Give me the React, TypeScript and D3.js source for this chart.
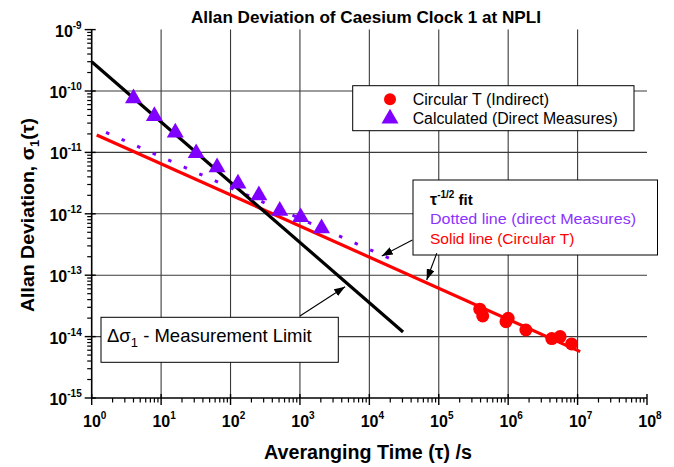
import React, { useRef, useEffect } from 'react'
import * as d3 from 'd3'

// Calculated (Direct Measures) - triangles
const calcTau = [4, 8, 16, 32, 64, 128, 256, 512, 1024, 2048]
const calcSigma = [7.6e-11, 3.9e-11, 2.1e-11, 9.7e-12, 5.7e-12, 3.1e-12, 2.0e-12, 1.12e-12, 8.8e-13, 5.8e-13]

// Circular T (Indirect) - circles
const circTau = [3.9e5, 4.3e5, 9.3e5, 1.0e6, 1.8e6, 4.25e6, 5.6e6, 8.2e6]
const circSigma = [2.8e-14, 2.17e-14, 1.75e-14, 1.99e-14, 1.28e-14, 9.3e-15, 1.0e-14, 7.6e-15]

// line end points [tau, sigma]
const limitLine = [[1, 3.0e-10], [3.06e4, 1.19e-14]]
const solidFit = [[1.18, 1.92e-11], [1.09e7, 5.7e-15]]
const dottedFit = [[1.61, 2.12e-11], [2.62e4, 1.62e-13]]

// annotation arrows [from, to]
const arrows = [
  [[4.17e4, 3.75e-13], [1.51e4, 2.06e-13]],
  [[9.35e4, 2.28e-13], [6.7e4, 8.36e-14]],
  [[1.0e3, 2.17e-14], [4.47e3, 6.5e-14]],
]

const xExponents = [0, 1, 2, 3, 4, 5, 6, 7, 8]
const yExponents = [-9, -10, -11, -12, -13, -14, -15]

const FONT = '"Liberation Sans", Arial, Helvetica, sans-serif'
const PURPLE = '#8000ff'
const RED = '#ff0000'

function Chart() {
  const ref = useRef(null)

  useEffect(() => {
    const svg = d3.select(ref.current)
    svg.selectAll('*').remove()

    const left = 91.7, right = 647, top = 29.6, bottom = 398
    const x = d3.scaleLog().domain([1, 1e8]).range([left, right])
    const y = d3.scaleLog().domain([1e-15, 1e-9]).range([bottom, top])

    const defs = svg.append('defs')
    defs.append('marker')
      .attr('id', 'arrowhead')
      .attr('markerUnits', 'userSpaceOnUse')
      .attr('markerWidth', 11).attr('markerHeight', 8)
      .attr('refX', 11).attr('refY', 4)
      .attr('orient', 'auto')
      .append('path').attr('d', 'M0,0 L11,4 L0,8 Z').attr('fill', '#000')

    // grid
    const g = svg.append('g')
    g.selectAll('.vgrid')
      .data(xExponents.slice(1, -1))
      .enter().append('line')
      .attr('x1', d => x(Math.pow(10, d))).attr('x2', d => x(Math.pow(10, d)))
      .attr('y1', top).attr('y2', bottom)
      .attr('stroke', '#3a3a3a').attr('stroke-width', 1.1)
    g.selectAll('.hgrid')
      .data(yExponents.slice(1, -1))
      .enter().append('line')
      .attr('y1', d => y(Math.pow(10, d))).attr('y2', d => y(Math.pow(10, d)))
      .attr('x1', left).attr('x2', right)
      .attr('stroke', '#3a3a3a').attr('stroke-width', 1.1)

    // minor ticks
    const xMinor = []
    xExponents.slice(0, -1).forEach(e => { for (let m = 2; m < 10; m++) xMinor.push(m * Math.pow(10, e)) })
    const yMinor = []
    yExponents.slice(1).forEach(e => { for (let m = 2; m < 10; m++) yMinor.push(m * Math.pow(10, e)) })

    g.selectAll('.xminor').data(xMinor).enter().append('line')
      .attr('x1', d => x(d)).attr('x2', d => x(d))
      .attr('y1', bottom).attr('y2', bottom + 4.5)
      .attr('stroke', '#000').attr('stroke-width', 1.2)
    g.selectAll('.xmajor').data(xExponents).enter().append('line')
      .attr('x1', d => x(Math.pow(10, d))).attr('x2', d => x(Math.pow(10, d)))
      .attr('y1', bottom - 4).attr('y2', bottom + 7)
      .attr('stroke', '#000').attr('stroke-width', 1.4)
    g.selectAll('.yminor').data(yMinor).enter().append('line')
      .attr('y1', d => y(d)).attr('y2', d => y(d))
      .attr('x1', left).attr('x2', left - 4.5)
      .attr('stroke', '#000').attr('stroke-width', 1.2)
    g.selectAll('.ymajor').data(yExponents).enter().append('line')
      .attr('y1', d => y(Math.pow(10, d))).attr('y2', d => y(Math.pow(10, d)))
      .attr('x1', left + 4).attr('x2', left - 7)
      .attr('stroke', '#000').attr('stroke-width', 1.4)

    // axis lines
    g.append('line').attr('x1', left).attr('x2', left).attr('y1', top).attr('y2', bottom)
      .attr('stroke', '#000').attr('stroke-width', 1.6)
    g.append('line').attr('x1', left).attr('x2', right).attr('y1', bottom).attr('y2', bottom)
      .attr('stroke', '#000').attr('stroke-width', 1.6)

    // tick labels
    const xl = g.selectAll('.xlab').data(xExponents).enter().append('text')
      .attr('x', d => x(Math.pow(10, d)) + 3).attr('y', bottom + 29)
      .attr('text-anchor', 'middle')
      .attr('font-family', FONT).attr('font-weight', 'bold').attr('font-size', 16)
    xl.append('tspan').text('10')
    xl.append('tspan').attr('dy', -8).attr('font-size', 10).text(d => d)

    const yl = g.selectAll('.ylab').data(yExponents).enter().append('text')
      .attr('x', left - 10).attr('y', d => y(Math.pow(10, d)) + 7)
      .attr('text-anchor', 'end')
      .attr('font-family', FONT).attr('font-weight', 'bold').attr('font-size', 16)
    yl.append('tspan').text('10')
    yl.append('tspan').attr('dy', -8).attr('font-size', 10).text(d => d)

    // titles
    svg.append('text').attr('x', 366).attr('y', 23).attr('text-anchor', 'middle')
      .attr('font-family', FONT).attr('font-weight', 'bold').attr('font-size', 16.5)
      .attr('textLength', 350).attr('lengthAdjust', 'spacingAndGlyphs')
      .text('Allan Deviation of Caesium Clock 1 at NPLI')

    svg.append('text').attr('x', 368).attr('y', 459).attr('text-anchor', 'middle')
      .attr('font-family', FONT).attr('font-weight', 'bold').attr('font-size', 19.5)
      .attr('textLength', 208).attr('lengthAdjust', 'spacingAndGlyphs')
      .text('Averanging Time (τ) /s')

    const yt = svg.append('text')
      .attr('transform', 'translate(34,215) rotate(-90)')
      .attr('text-anchor', 'middle')
      .attr('font-family', FONT).attr('font-weight', 'bold').attr('font-size', 18)
      .attr('textLength', 194).attr('lengthAdjust', 'spacingAndGlyphs')
    yt.append('tspan').text('Allan Deviation, σ')
    yt.append('tspan').attr('dy', 5).attr('font-size', 12).text('1')
    yt.append('tspan').attr('dy', -5).text('(τ)')

    // lines
    const path = d3.line().x(d => x(d[0])).y(d => y(d[1]))
    svg.append('path').datum(dottedFit).attr('d', path)
      .attr('fill', 'none').attr('stroke', PURPLE).attr('stroke-width', 3)
      .attr('stroke-dasharray', '3.5,13.5')
    svg.append('path').datum(solidFit).attr('d', path)
      .attr('fill', 'none').attr('stroke', RED).attr('stroke-width', 3.2)
    svg.append('path').datum(limitLine).attr('d', path)
      .attr('fill', 'none').attr('stroke', '#000').attr('stroke-width', 3.2)

    // markers
    const tri = d3.symbol().type(d3.symbolTriangle).size(125)
    svg.selectAll('.tri').data(calcTau).enter().append('path')
      .attr('d', tri)
      .attr('transform', (d, i) => `translate(${x(d)},${y(calcSigma[i])})`)
      .attr('fill', PURPLE)
    svg.selectAll('.circ').data(circTau).enter().append('circle')
      .attr('cx', d => x(d)).attr('cy', (d, i) => y(circSigma[i]))
      .attr('r', 6.5).attr('fill', RED)

    // legend
    const lg = svg.append('g')
    lg.append('rect').attr('x', 352.7).attr('y', 85.7).attr('width', 281.3).attr('height', 45)
      .attr('fill', '#fff').attr('stroke', '#000').attr('stroke-width', 1)
    lg.append('circle').attr('cx', 390).attr('cy', 99.3).attr('r', 6).attr('fill', RED)
    lg.append('path').attr('d', tri).attr('transform', 'translate(390,118.6)').attr('fill', PURPLE)
    lg.append('text').attr('x', 412.7).attr('y', 104.8)
      .attr('font-family', FONT).attr('font-size', 16).text('Circular T (Indirect)')
    lg.append('text').attr('x', 412.7).attr('y', 124)
      .attr('font-family', FONT).attr('font-size', 16)
      .attr('textLength', 205).attr('lengthAdjust', 'spacingAndGlyphs')
      .text('Calculated (Direct Measures)')

    // fit annotation box
    const ab = svg.append('g')
    ab.append('rect').attr('x', 413).attr('y', 180).attr('width', 244.5).attr('height', 75)
      .attr('fill', '#fff').attr('stroke', '#000').attr('stroke-width', 1)
    const t1 = ab.append('text').attr('x', 430).attr('y', 205)
      .attr('font-family', FONT).attr('font-weight', 'bold').attr('font-size', 15)
    t1.append('tspan').attr('font-size', 16).text('τ')
    t1.append('tspan').attr('dy', -7).attr('font-size', 10).text('-1/2')
    t1.append('tspan').attr('dy', 7).text(' fit')
    ab.append('text').attr('x', 430).attr('y', 224)
      .attr('font-family', FONT).attr('font-size', 15.5).attr('fill', '#8c33ff')
      .attr('textLength', 206).attr('lengthAdjust', 'spacingAndGlyphs')
      .text('Dotted line (direct Measures)')
    ab.append('text').attr('x', 430).attr('y', 243.5)
      .attr('font-family', FONT).attr('font-size', 15.5).attr('fill', RED)
      .text('Solid line (Circular T)')

    // measurement limit box
    const mb = svg.append('g')
    mb.append('rect').attr('x', 101).attr('y', 317.3).attr('width', 237.3).attr('height', 45)
      .attr('fill', '#fff').attr('stroke', '#000').attr('stroke-width', 1)
    const mt = mb.append('text').attr('x', 107).attr('y', 341.5)
      .attr('font-family', FONT).attr('font-size', 18.5)
    mt.append('tspan').text('Δσ')
    mt.append('tspan').attr('dy', 5).attr('font-size', 13).text('1')
    mt.append('tspan').attr('dy', -5).text(' - Measurement Limit')

    // arrows
    svg.selectAll('.arrow').data(arrows).enter().append('line')
      .attr('x1', d => x(d[0][0])).attr('y1', d => y(d[0][1]))
      .attr('x2', d => x(d[1][0])).attr('y2', d => y(d[1][1]))
      .attr('stroke', '#000').attr('stroke-width', 1.1)
      .attr('marker-end', 'url(#arrowhead)')
  }, [])

  return <svg ref={ref} width={674} height={467}
    style={{ position: 'absolute', left: 0, top: 0, background: '#fff' }} />
}

export default function App() {
  return <Chart />
}
